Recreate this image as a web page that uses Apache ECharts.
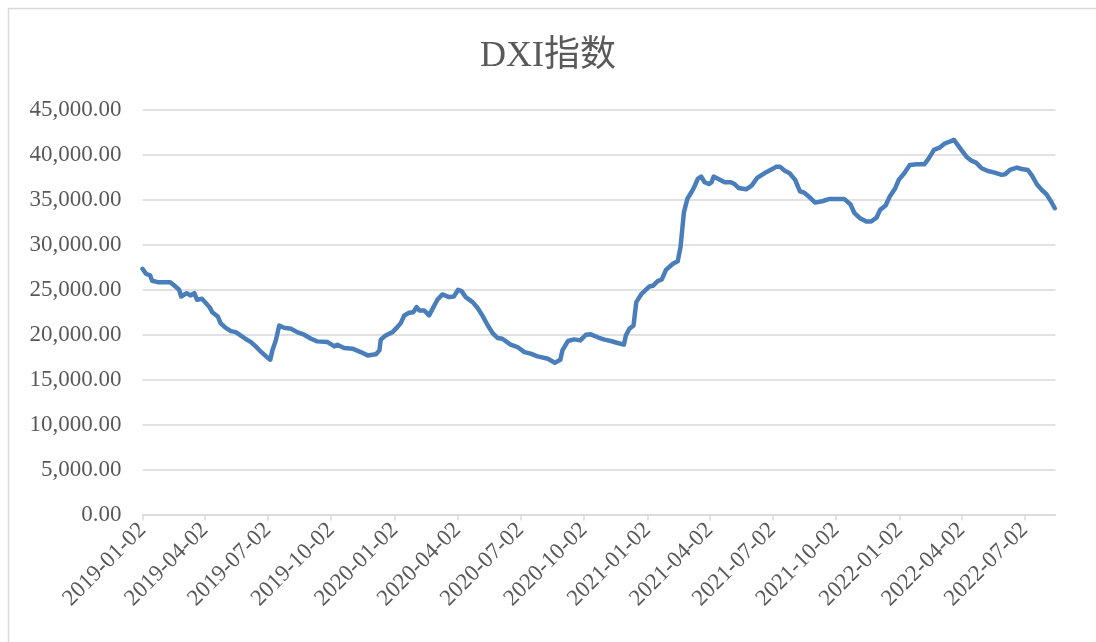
<!DOCTYPE html>
<html>
<head>
<meta charset="utf-8">
<title>DXI指数</title>
<style>
    html, body { margin: 0; padding: 0; background: #fff; }
    #main { width: 1096px; height: 642px; }
</style>
</head>
<body>
<div id="main"></div>
<script src="https://cdn.jsdelivr.net/npm/echarts@6/dist/echarts.min.js"></script>
<script type="text/javascript">
    // 日期与指数值
    var dates = [
        '2019-01-02', '2019-01-07', '2019-01-13', '2019-01-16', '2019-01-24', '2019-02-11', '2019-02-17', '2019-02-24',
        '2019-02-27', '2019-03-07', '2019-03-13', '2019-03-18', '2019-03-22', '2019-03-29', '2019-04-04', '2019-04-09',
        '2019-04-13', '2019-04-21', '2019-04-25', '2019-05-02', '2019-05-10', '2019-05-17', '2019-05-24', '2019-05-31',
        '2019-06-08', '2019-06-15', '2019-06-22', '2019-06-30', '2019-07-06', '2019-07-09', '2019-07-14', '2019-07-19',
        '2019-07-26', '2019-08-05', '2019-08-14', '2019-08-24', '2019-09-03', '2019-09-12', '2019-09-27', '2019-10-07',
        '2019-10-11', '2019-10-21', '2019-11-02', '2019-11-14', '2019-11-24', '2019-12-06', '2019-12-11', '2019-12-13',
        '2019-12-20', '2019-12-30', '2020-01-06', '2020-01-11', '2020-01-16', '2020-01-23', '2020-01-29', '2020-02-03',
        '2020-02-07', '2020-02-14', '2020-02-21', '2020-02-26', '2020-03-04', '2020-03-11', '2020-03-21', '2020-03-28',
        '2020-04-03', '2020-04-08', '2020-04-14', '2020-04-24', '2020-05-01', '2020-05-08', '2020-05-16', '2020-05-23',
        '2020-05-30', '2020-06-06', '2020-06-18', '2020-06-28', '2020-07-08', '2020-07-17', '2020-07-27', '2020-08-11',
        '2020-08-21', '2020-08-29', '2020-09-01', '2020-09-09', '2020-09-18', '2020-09-27', '2020-10-05', '2020-10-12',
        '2020-10-24', '2020-11-01', '2020-11-10', '2020-11-20', '2020-11-29', '2020-12-02', '2020-12-07', '2020-12-13',
        '2020-12-17', '2020-12-24', '2021-01-05', '2021-01-10', '2021-01-17', '2021-01-23', '2021-01-29', '2021-02-08',
        '2021-02-15', '2021-02-19', '2021-02-24', '2021-03-01', '2021-03-07', '2021-03-11', '2021-03-16', '2021-03-21',
        '2021-03-26', '2021-04-01', '2021-04-05', '2021-04-08', '2021-04-15', '2021-04-24', '2021-05-03', '2021-05-08',
        '2021-05-14', '2021-05-25', '2021-06-02', '2021-06-10', '2021-06-21', '2021-06-30', '2021-07-08', '2021-07-13',
        '2021-07-20', '2021-07-27', '2021-08-04', '2021-08-11', '2021-08-17', '2021-08-25', '2021-09-02', '2021-09-12',
        '2021-09-23', '2021-10-05', '2021-10-14', '2021-10-23', '2021-10-29', '2021-11-06', '2021-11-15', '2021-11-22',
        '2021-11-30', '2021-12-05', '2021-12-13', '2021-12-19', '2021-12-27', '2022-01-01', '2022-01-09', '2022-01-17',
        '2022-01-27', '2022-02-07', '2022-02-13', '2022-02-21', '2022-03-01', '2022-03-09', '2022-03-16', '2022-03-22',
        '2022-03-31', '2022-04-09', '2022-04-16', '2022-04-23', '2022-05-01', '2022-05-10', '2022-05-20', '2022-05-30',
        '2022-06-04', '2022-06-11', '2022-06-21', '2022-06-28', '2022-07-07', '2022-07-13', '2022-07-20', '2022-07-27',
        '2022-08-03', '2022-08-09', '2022-08-15'
    ];
    var dxiValues = [
        27330, 26780, 26600, 26000, 25850, 25850, 25480, 25000,
        24250, 24620, 24370, 24620, 23890, 24000, 23510, 23070,
        22510, 22030, 21290, 20780, 20400, 20290, 19920, 19550,
        19180, 18700, 18140, 17590, 17220, 18250, 19370, 21030,
        20780, 20670, 20290, 20000, 19550, 19260, 19180, 18700,
        18890, 18520, 18450, 18070, 17700, 17820, 18260, 19450,
        19920, 20290, 20850, 21290, 22150, 22440, 22510, 23070,
        22700, 22700, 22150, 22880, 23890, 24480, 24180, 24260,
        25000, 24850, 24180, 23630, 23000, 22150, 21030, 20180,
        19630, 19550, 18890, 18630, 18070, 17890, 17590, 17330,
        16890, 17220, 18250, 19300, 19480, 19370, 20000, 20040,
        19660, 19450, 19300, 19080, 18890, 19930, 20670, 21030,
        23630, 24480, 25370, 25440, 25960, 26150, 27220, 27890,
        28180, 29740, 33640, 35130, 35880, 36440, 37330, 37590,
        36960, 36770, 36960, 37590, 37330, 36960, 36960, 36770,
        36330, 36180, 36590, 37440, 37990, 38360, 38700, 38700,
        38250, 37960, 37220, 35960, 35810, 35290, 34700, 34850,
        35110, 35110, 35110, 34520, 33520, 32960, 32590, 32590,
        33040, 33890, 34370, 35370, 36300, 37220, 37960, 38890,
        38960, 38960, 39560, 40560, 40810, 41300, 41480, 41670,
        40740, 39810, 39370, 39150, 38520, 38220, 38030, 37780,
        37850, 38330, 38590, 38440, 38330, 37700, 36740, 36110,
        35630, 34890, 34070
    ];
    // 横轴刻度（每季度）
    var tickDates = [
        '2019-01-02', '2019-04-02', '2019-07-02', '2019-10-02',
        '2020-01-02', '2020-04-02', '2020-07-02', '2020-10-02',
        '2021-01-02', '2021-04-02', '2021-07-02', '2021-10-02',
        '2022-01-02', '2022-04-02', '2022-07-02'
    ];
    var axisStart = '2019-01-02';
    var axisEnd = '2022-08-16';

    var toTime = function (s) { return +echarts.number.parseDate(s); };
    var tickValues = tickDates.map(toTime);
    var seriesData = dates.map(function (d, i) { return [toTime(d), dxiValues[i]]; });

    var fontSerif = '"Liberation Serif", "Times New Roman", "Noto Sans CJK SC", serif';
    var myChart = echarts.init(document.getElementById('main'));
    myChart.setOption({
        animation: false,
        backgroundColor: '#fff',
        title: {
            text: 'DXI指数',
            left: 'center',
            top: 34,
            textStyle: {
                fontFamily: fontSerif,
                fontSize: 36,
                fontWeight: 'normal',
                color: '#595959'
            }
        },
        graphic: [{
            type: 'rect',
            shape: { x: 8.5, y: 8.5, width: 1200, height: 800 },
            style: { fill: 'none', stroke: '#d9d9d9', lineWidth: 1.5 },
            silent: true
        }],
        grid: {
            left: 142.5,
            right: 40.5,
            top: 110,
            bottom: 127.5,
            containLabel: false
        },
        xAxis: {
            type: 'value',
            min: toTime(axisStart),
            max: toTime(axisEnd),
            axisLine: { lineStyle: { color: '#d9d9d9', width: 1.5 } },
            axisTick: {
                customValues: tickValues,
                length: 6,
                lineStyle: { color: '#d9d9d9', width: 1.5 }
            },
            splitLine: { show: false },
            axisLabel: {
                customValues: tickValues,
                rotate: 45,
                margin: 12,
                fontFamily: fontSerif,
                fontSize: 23,
                color: '#595959',
                formatter: function (v) {
                    return echarts.time.format(v, '{yyyy}-{MM}-{dd}', false);
                }
            }
        },
        yAxis: {
            type: 'value',
            min: 0,
            max: 45000,
            interval: 5000,
            axisLine: { show: false },
            axisTick: { show: false },
            splitLine: { lineStyle: { color: '#d9d9d9', width: 1.5 } },
            axisLabel: {
                margin: 21,
                fontFamily: fontSerif,
                fontSize: 23,
                color: '#595959',
                formatter: function (v) {
                    return v.toLocaleString('en-US', { minimumFractionDigits: 2, maximumFractionDigits: 2 });
                }
            }
        },
        series: [{
            name: 'DXI指数',
            type: 'line',
            data: seriesData,
            showSymbol: false,
            lineStyle: { color: '#4a7ebb', width: 4.5, join: 'round', cap: 'round' },
            itemStyle: { color: '#4a7ebb' }
        }]
    });
</script>
</body>
</html>
